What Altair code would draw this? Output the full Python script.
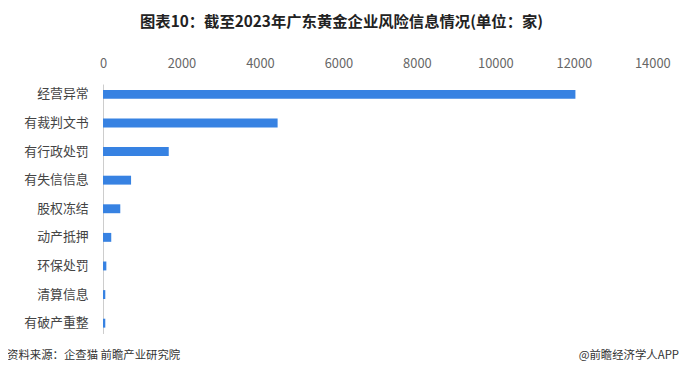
import altair as alt
import pandas as pd

categories = ["经营异常", "有裁判文书", "有行政处罚", "有失信信息", "股权冻结", "动产抵押", "环保处罚", "清算信息", "有破产重整"]
values = [12040, 4450, 1675, 715, 440, 210, 85, 58, 58]
ticks = [0, 2000, 4000, 6000, 8000, 10000, 12000, 14000]

title_text = "图表10：截至2023年广东黄金企业风险信息情况(单位：家)"
source_text = "资料来源：企查猫 前瞻产业研究院"
brand_text = "@前瞻经济学人APP"

df = pd.DataFrame({"cat": categories, "val": values})
FONT = "Noto Sans CJK SC"

W, H = 555, 252

bars = alt.Chart(df).mark_bar(color="#3782e2", height=9).encode(
    x=alt.X("val:Q", scale=alt.Scale(domain=[0, 14000], nice=False),
            axis=alt.Axis(orient="top", values=ticks, title=None, grid=False, ticks=False,
                          domain=False, labelColor="#666666", labelFontSize=13,
                          labelFont=FONT, labelPadding=14, format="d", labelFlush=False,
                          labelOverlap=False)),
    y=alt.Y("cat:N", sort=categories,
            axis=alt.Axis(title=None, ticks=False, domain=True, domainColor="#cccccc",
                          labelColor="#444444", labelFontSize=13, labelFont=FONT,
                          labelPadding=15)),
)

title = alt.Chart(pd.DataFrame({"t": [title_text]})).mark_text(
    font=FONT, fontSize=15.5, fontWeight="bold", color="#222222", align="center", baseline="middle"
).encode(text="t:N", x=alt.value(241), y=alt.value(-63))

src = alt.Chart(pd.DataFrame({"t": [source_text]})).mark_text(
    font=FONT, fontSize=11.5, color="#333333", align="left", baseline="middle"
).encode(text="t:N", x=alt.value(-97), y=alt.value(275))

brand = alt.Chart(pd.DataFrame({"t": [brand_text]})).mark_text(
    font=FONT, fontSize=11.5, color="#333333", align="right", baseline="middle"
).encode(text="t:N", x=alt.value(582), y=alt.value(275))

chart = alt.layer(bars, title, src, brand).properties(
    width=W, height=H,
    autosize=alt.AutoSizeParams(type="none"),
    padding={"left": 96, "top": 75, "right": 31, "bottom": 28},
).configure_view(stroke=None).configure_scale(bandPaddingInner=0.68, bandPaddingOuter=0.2)

chart.save("out.html", embed_options={"renderer": "svg", "actions": False})
